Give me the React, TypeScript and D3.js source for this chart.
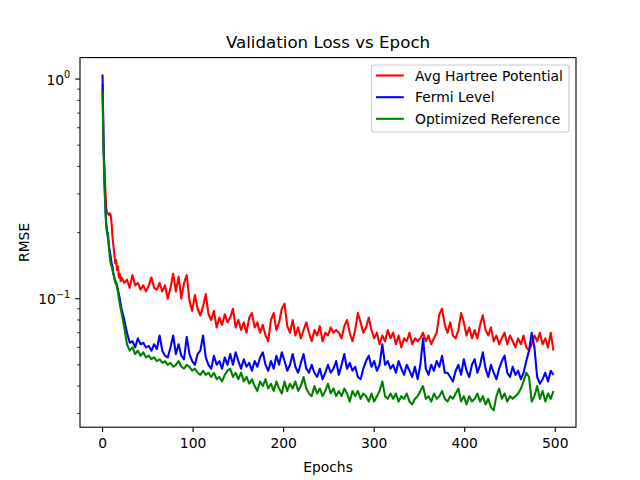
import React from 'react';
import * as d3 from 'd3';

// Epoch indices (x positions): every epoch up to 20, then every 3rd epoch
const epochs: number[] = [...d3.range(0, 21), ...d3.range(21, 499, 3)];

const hartree: number[] = [
  0.95, 0.50, 0.40, 0.32, 0.26, 0.245, 0.245, 0.24, 0.245, 0.24, 0.22, 0.19, 0.175, 0.16, 0.145, 0.15, 0.135, 0.14, 0.125, 0.13, 0.12,
  0.125, 0.118, 0.122, 0.112, 0.128, 0.115, 0.118, 0.110, 0.115, 0.108,
  0.115, 0.125, 0.112, 0.110, 0.118, 0.108, 0.115, 0.100, 0.112, 0.130,
  0.108, 0.126, 0.100, 0.118, 0.128, 0.098, 0.088, 0.104, 0.090, 0.084,
  0.092, 0.105, 0.085, 0.080, 0.088, 0.074, 0.082, 0.076, 0.085, 0.078,
  0.082, 0.090, 0.074, 0.080, 0.072, 0.078, 0.070, 0.082, 0.086, 0.074,
  0.078, 0.070, 0.076, 0.068, 0.064, 0.080, 0.086, 0.072, 0.078, 0.090,
  0.095, 0.075, 0.070, 0.080, 0.068, 0.074, 0.066, 0.072, 0.078, 0.070,
  0.064, 0.072, 0.068, 0.075, 0.064, 0.070, 0.068, 0.074, 0.070, 0.072,
  0.070, 0.066, 0.075, 0.080, 0.070, 0.064, 0.072, 0.086, 0.078, 0.070,
  0.074, 0.082, 0.072, 0.066, 0.070, 0.062, 0.068, 0.064, 0.072, 0.066,
  0.070, 0.062, 0.068, 0.060, 0.066, 0.064, 0.070, 0.062, 0.066, 0.064,
  0.066, 0.070, 0.064, 0.068, 0.062, 0.066, 0.070, 0.085, 0.090, 0.076,
  0.070, 0.078, 0.068, 0.066, 0.072, 0.086, 0.078, 0.068, 0.074, 0.066,
  0.072, 0.066, 0.076, 0.084, 0.072, 0.068, 0.074, 0.064, 0.068, 0.062,
  0.066, 0.070, 0.062, 0.068, 0.064, 0.060, 0.066, 0.062, 0.068, 0.060,
  0.058, 0.062, 0.068, 0.064, 0.070, 0.062, 0.066, 0.060, 0.070, 0.058,
];

const fermi: number[] = [
  1.05, 0.55, 0.36, 0.27, 0.22, 0.20, 0.19, 0.175, 0.165, 0.155, 0.145, 0.14, 0.13, 0.125, 0.12, 0.118, 0.115, 0.11, 0.105, 0.10, 0.095,
  0.090, 0.080, 0.070, 0.063, 0.064, 0.060, 0.066, 0.062, 0.063, 0.060,
  0.061, 0.058, 0.062, 0.059, 0.068, 0.058, 0.055, 0.054, 0.060, 0.068,
  0.056, 0.062, 0.055, 0.053, 0.067, 0.056, 0.052, 0.050, 0.056, 0.058,
  0.068, 0.054, 0.050, 0.048, 0.055, 0.050, 0.052, 0.048, 0.054, 0.050,
  0.056, 0.050, 0.057, 0.052, 0.048, 0.053, 0.049, 0.051, 0.047, 0.052,
  0.049, 0.054, 0.057, 0.050, 0.047, 0.052, 0.048, 0.055, 0.050, 0.057,
  0.052, 0.047, 0.050, 0.056, 0.049, 0.046, 0.051, 0.056, 0.048, 0.046,
  0.050, 0.046, 0.044, 0.048, 0.043, 0.046, 0.050, 0.046, 0.048, 0.052,
  0.045, 0.050, 0.056, 0.048, 0.051, 0.047, 0.049, 0.044, 0.043, 0.048,
  0.052, 0.055, 0.049, 0.052, 0.047, 0.050, 0.062, 0.050, 0.052, 0.048,
  0.050, 0.046, 0.052, 0.048, 0.045, 0.050, 0.047, 0.044, 0.049, 0.043,
  0.050, 0.066, 0.048, 0.045, 0.050, 0.047, 0.052, 0.049, 0.055, 0.046,
  0.046, 0.044, 0.042, 0.047, 0.050, 0.045, 0.053, 0.047, 0.044, 0.050,
  0.053, 0.046, 0.050, 0.057, 0.048, 0.044, 0.050, 0.046, 0.043, 0.048,
  0.052, 0.055, 0.046, 0.044, 0.049, 0.045, 0.047, 0.043, 0.046, 0.052,
  0.058, 0.070, 0.060, 0.044, 0.041, 0.043, 0.046, 0.042, 0.047, 0.045,
];

const optimized: number[] = [
  0.88, 0.50, 0.34, 0.26, 0.215, 0.20, 0.20, 0.17, 0.155, 0.145, 0.14, 0.135, 0.13, 0.125, 0.118, 0.12, 0.112, 0.108, 0.10, 0.095, 0.09,
  0.086, 0.074, 0.062, 0.058, 0.060, 0.056, 0.058, 0.055, 0.057, 0.054,
  0.055, 0.053, 0.054, 0.052, 0.053, 0.051, 0.052, 0.050, 0.051, 0.049,
  0.050, 0.052, 0.049, 0.048, 0.050, 0.049, 0.047, 0.048, 0.046, 0.045,
  0.047, 0.045, 0.046, 0.044, 0.046, 0.043, 0.044, 0.042, 0.045, 0.047,
  0.048, 0.044, 0.046, 0.043, 0.046, 0.042, 0.044, 0.041, 0.043, 0.040,
  0.038, 0.042, 0.040, 0.043, 0.039, 0.041, 0.038, 0.042, 0.039, 0.037,
  0.042, 0.038, 0.041, 0.039, 0.042, 0.038, 0.040, 0.044, 0.039, 0.037,
  0.036, 0.040, 0.037, 0.039, 0.036, 0.038, 0.041, 0.037, 0.039, 0.036,
  0.038, 0.036, 0.039, 0.037, 0.034, 0.038, 0.036, 0.038, 0.035, 0.037,
  0.036, 0.034, 0.037, 0.034, 0.036, 0.038, 0.042, 0.036, 0.035, 0.037,
  0.035, 0.037, 0.034, 0.036, 0.035, 0.037, 0.034, 0.033, 0.035, 0.036,
  0.038, 0.040, 0.035, 0.036, 0.034, 0.037, 0.035, 0.036, 0.038, 0.035,
  0.034, 0.036, 0.035, 0.037, 0.039, 0.034, 0.036, 0.033, 0.036, 0.034,
  0.035, 0.037, 0.034, 0.036, 0.033, 0.035, 0.032, 0.031, 0.036, 0.039,
  0.035, 0.037, 0.034, 0.036, 0.035, 0.036, 0.037, 0.039, 0.042, 0.046,
  0.044, 0.034, 0.036, 0.040, 0.035, 0.038, 0.034, 0.037, 0.035, 0.038,
];

const seriesNames: string[] = ['Avg Hartree Potential', 'Fermi Level', 'Optimized Reference'];
const seriesColors: string[] = ['#ff0000', '#0000ff', '#008000'];
const xTicks: number[] = [0, 100, 200, 300, 400, 500];
const yMajorTicks: number[] = [0.1, 1];
const yMajorLabels: string[] = ['\u22121', '0'];

const titleText = 'Validation Loss vs Epoch';
const xLabelText = 'Epochs';
const yLabelText = 'RMSE';

const W = 640;
const H = 480;
const L = 80;
const R = 576;
const T = 57.6;
const B = 427.2;
const PT = 100 / 72;
const FS = 10 * PT;
const FONT = '"DejaVu Sans", sans-serif';

export default function App() {
  const series = [hartree, fermi, optimized];
  const xMin = d3.min(epochs)!;
  const xMax = d3.max(epochs)!;
  const xPad = (xMax - xMin) * 0.05;
  const x = d3.scaleLinear().domain([xMin - xPad, xMax + xPad]).range([L, R]);

  const all = series.flat();
  const lmin = Math.log10(d3.min(all)!);
  const lmax = Math.log10(d3.max(all)!);
  const lpad = (lmax - lmin) * 0.05;
  const y = d3.scaleLog().domain([10 ** (lmin - lpad), 10 ** (lmax + lpad)]).range([B, T]);

  const [d0, d1] = y.domain();
  const minorTicks: number[] = [];
  for (let e = Math.floor(Math.log10(d0)); e <= Math.ceil(Math.log10(d1)); e++) {
    for (let k = 2; k <= 9; k++) {
      const v = k * 10 ** e;
      if (v >= d0 && v <= d1) minorTicks.push(v);
    }
  }

  const line = d3
    .line<number>()
    .x((_, i) => x(epochs[i]))
    .y((d) => y(d));

  const tickLen = 3.5 * PT;
  const tickPad = 3.5 * PT;
  const spineW = 0.8 * PT;

  const legendX = 371.5;
  const legendY = 65;
  const legendW = 197.5;
  const legendH = 67;
  const rowY = [75.5, 97.2, 118.8];

  return (
    <svg
      width={W}
      height={H}
      viewBox={`0 0 ${W} ${H}`}
      style={{ position: 'absolute', left: 0, top: 0, background: '#fff' }}
      fontFamily={FONT}
    >
      <rect x={0} y={0} width={W} height={H} fill="#fff" />
      <defs>
        <clipPath id="plotClip">
          <rect x={L} y={T} width={R - L} height={B - T} />
        </clipPath>
      </defs>

      <g clipPath="url(#plotClip)">
        {series.map((s, i) => (
          <path
            key={seriesNames[i]}
            d={line(s) || ''}
            fill="none"
            stroke={seriesColors[i]}
            strokeWidth={1.5 * PT}
            strokeLinejoin="round"
          />
        ))}
      </g>

      {/* spines */}
      <rect x={L} y={T} width={R - L} height={B - T} fill="none" stroke="#000" strokeWidth={spineW} />

      {/* x ticks */}
      {xTicks.map((t) => (
        <g key={`xt${t}`}>
          <line x1={x(t)} x2={x(t)} y1={B} y2={B + tickLen} stroke="#000" strokeWidth={spineW} />
          <text x={x(t)} y={B + tickLen + tickPad + 11} textAnchor="middle" fontSize={FS} fill="#000">
            {t}
          </text>
        </g>
      ))}

      {/* y major ticks */}
      {yMajorTicks.map((t, i) => (
        <g key={`yt${t}`}>
          <line x1={L - tickLen} x2={L} y1={y(t)} y2={y(t)} stroke="#000" strokeWidth={spineW} />
          <text x={L - tickLen - tickPad} y={y(t) + 5.5} textAnchor="end" fontSize={FS} fill="#000">
            10
            <tspan dy={-6.5} fontSize={FS * 0.7}>
              {yMajorLabels[i]}
            </tspan>
          </text>
        </g>
      ))}

      {/* y minor ticks */}
      {minorTicks.map((t) => (
        <line key={`ym${t}`} x1={L - 2 * PT} x2={L} y1={y(t)} y2={y(t)} stroke="#000" strokeWidth={0.6 * PT} />
      ))}

      {/* labels */}
      <text x={(L + R) / 2} y={47.5} textAnchor="middle" fontSize={12 * PT} fill="#000">
        {titleText}
      </text>
      <text x={(L + R) / 2} y={472} textAnchor="middle" fontSize={FS} fill="#000">
        {xLabelText}
      </text>
      <text
        transform={`translate(29, ${(T + B) / 2}) rotate(-90)`}
        textAnchor="middle"
        fontSize={FS}
        fill="#000"
      >
        {yLabelText}
      </text>

      {/* legend */}
      <rect
        x={legendX}
        y={legendY}
        width={legendW}
        height={legendH}
        rx={2.8}
        fill="#fff"
        fillOpacity={0.8}
        stroke="#cccccc"
        strokeWidth={spineW}
      />
      {seriesNames.map((n, i) => (
        <g key={`lg${n}`}>
          <line x1={376} x2={403.8} y1={rowY[i]} y2={rowY[i]} stroke={seriesColors[i]} strokeWidth={1.5 * PT} />
          <text x={415} y={rowY[i] + 5} fontSize={FS} fill="#000">
            {n}
          </text>
        </g>
      ))}
    </svg>
  );
}
